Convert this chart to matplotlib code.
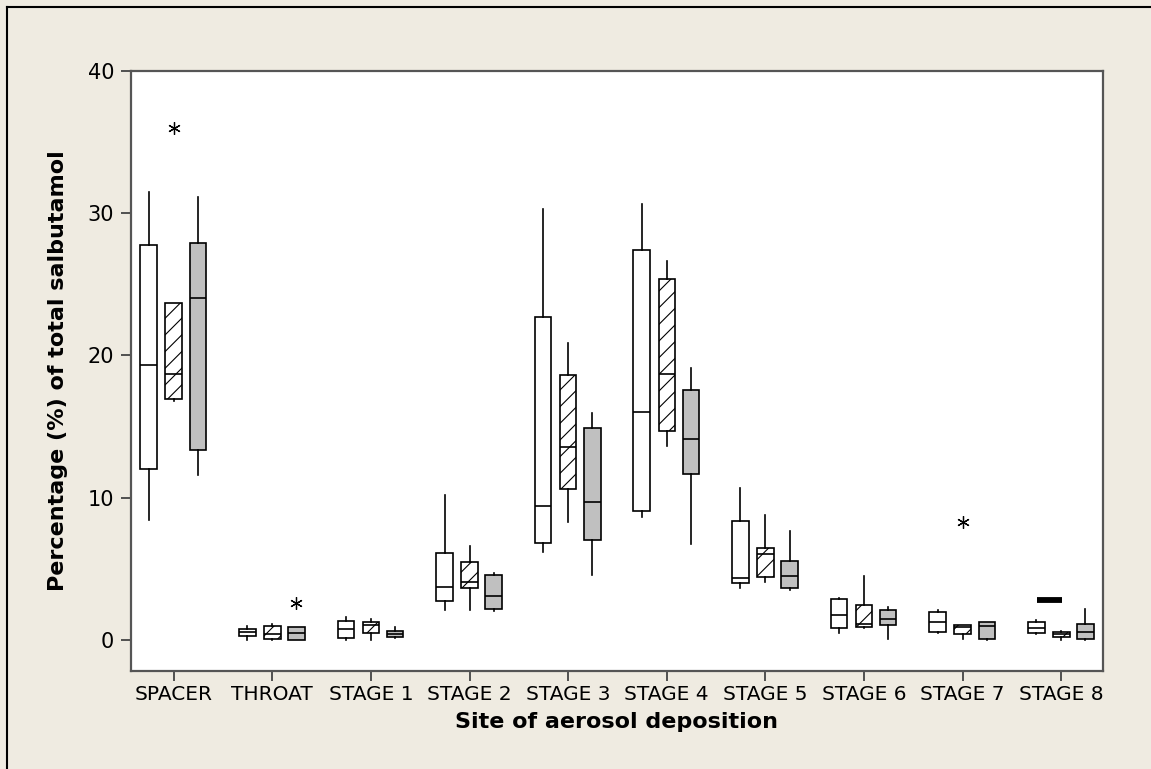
import matplotlib
matplotlib.use("Agg")
import matplotlib.pyplot as plt
from matplotlib.lines import Line2D

# Sites on the x axis
sites = ["SPACER", "THROAT", "STAGE 1", "STAGE 2", "STAGE 3",
         "STAGE 4", "STAGE 5", "STAGE 6", "STAGE 7", "STAGE 8"]

# Box statistics per site, one list per device (white, hatched, grey)
# each entry: (whisker low, Q1, median, Q3, whisker high)
white = [
    (8.44, 12.0, 19.33, 27.8, 31.5),
    (0.0, 0.31, 0.55, 0.76, 1.01),
    (0.0, 0.12, 0.76, 1.32, 1.6),
    (2.12, 2.77, 3.69, 6.12, 10.18),
    (6.17, 6.83, 9.45, 22.72, 30.32),
    (8.63, 9.1, 16.04, 27.41, 30.67),
    (3.64, 4.04, 4.37, 8.38, 10.67),
    (0.48, 0.85, 1.79, 2.89, 2.96),
    (0.48, 0.57, 1.25, 2.0, 2.12),
    (0.4, 0.52, 0.87, 1.25, 1.37),
]
hatched = [
    (16.8, 16.94, 18.69, 23.66, 23.66),
    (0.0, 0.08, 0.45, 0.99, 1.1),
    (0.0, 0.52, 1.08, 1.25, 1.46),
    (2.12, 3.66, 4.06, 5.49, 6.6),
    (8.26, 10.63, 13.6, 18.6, 20.85),
    (13.67, 14.68, 18.69, 25.35, 26.64),
    (4.09, 4.46, 6.05, 6.5, 8.78),
    (0.86, 0.94, 1.11, 2.45, 4.53),
    (0.1, 0.43, 0.9, 1.06, 1.06),
    (0.0, 0.2, 0.41, 0.55, 0.66),
]
grey = [
    (11.6, 13.36, 24.01, 27.88, 31.16),
    (0.0, 0.0, 0.48, 0.9, 0.9),
    (0.17, 0.19, 0.45, 0.62, 0.9),
    (2.05, 2.21, 3.12, 4.58, 4.74),
    (4.56, 7.02, 9.71, 14.87, 15.97),
    (6.73, 11.7, 14.14, 17.56, 19.13),
    (3.48, 3.64, 4.49, 5.58, 7.67),
    (0.05, 1.04, 1.46, 2.14, 2.35),
    (0.0, 0.05, 0.99, 1.25, 1.25),
    (0.0, 0.08, 0.59, 1.11, 2.16),
]

# outliers (asterisks)
white_out = [[] for _ in sites]
hatched_out = [[36.0], [], [], [], [], [], [], [], [8.26], []]
grey_out = [[], [2.59], [], [], [], [], [], [], [], []]

# the solid black bar drawn above STAGE 8
bar_site = 10
bar_y = 2.78

bg = "#EFEBE1"
fig = plt.figure(figsize=(11.51, 7.69), dpi=100, facecolor=bg)
ax = fig.add_axes([130.7 / 1151, 1 - 670.7 / 769, 972 / 1151, (670.7 - 71) / 769])
ax.set_facecolor("white")

plt.rcParams["hatch.linewidth"] = 0.8
plt.rcParams["hatch.color"] = "black"


def make_stats(rows, outs):
    out = []
    for r, o in zip(rows, outs):
        out.append(dict(whislo=r[0], q1=r[1], med=r[2], q3=r[3], whishi=r[4], fliers=o))
    return out


lw = 1.2
groups = [(white, white_out, -0.254, "white", ""),
          (hatched, hatched_out, 0.0, "white", "//"),
          (grey, grey_out, 0.245, "#C0C0C0", "")]

for rows, outs, off, fc, hatch in groups:
    pos = [i + 1 + off for i in range(len(sites))]
    bp = ax.bxp(make_stats(rows, outs), positions=pos, widths=0.168,
                patch_artist=True, showcaps=False,
                boxprops=dict(edgecolor="black", linewidth=lw),
                whiskerprops=dict(color="black", linewidth=lw),
                medianprops=dict(color="black", linewidth=lw),
                flierprops=dict(marker=(6, 2, 0), markersize=9,
                                markeredgecolor="black", markeredgewidth=0.9))
    for b in bp["boxes"]:
        b.set_facecolor(fc)
        b.set_hatch(hatch)

ax.hlines(bar_y, bar_site - 0.245, bar_site + 0.01, color="black", linewidth=4.2)

ax.set_xlim(0.564, 10.42)
ax.set_ylim(-2.16, 40)
ax.set_xticks(range(1, len(sites) + 1))
ax.set_xticklabels(sites)
ax.set_yticks([0, 10, 20, 30, 40])

for s in ax.spines.values():
    s.set_color("#555555")
    s.set_linewidth(1.6)

ax.tick_params(axis="both", direction="out", length=7, width=1.3, color="#444444")
ax.tick_params(axis="x", labelsize=14.5, pad=3)
ax.tick_params(axis="y", labelsize=15, pad=5)

ax.set_xlabel("Site of aerosol deposition", fontsize=16, fontweight="bold", labelpad=6)
ax.set_ylabel("Percentage (%) of total salbutamol", fontsize=16, fontweight="bold", labelpad=14)

# frame around the picture (left and top edges)
fig.add_artist(Line2D([7 / 1151, 7 / 1151], [0, 1 - 6.7 / 769],
                      transform=fig.transFigure, color="black", linewidth=1.5))
fig.add_artist(Line2D([7 / 1151, 1], [1 - 6.7 / 769, 1 - 6.7 / 769],
                      transform=fig.transFigure, color="black", linewidth=1.5))

fig.savefig("out.png", dpi=100, facecolor=bg)
